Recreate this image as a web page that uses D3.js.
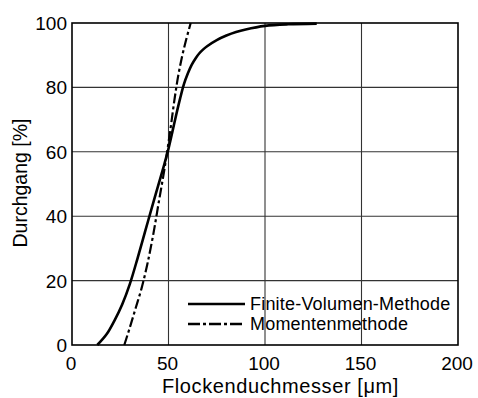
<!DOCTYPE html>
<html lang="de">
<head>
<meta charset="utf-8">
<title>Durchgang</title>
<script src="https://d3js.org/d3.v7.min.js"></script>
<style>
  body { margin: 0; background: #fff; }
  svg text { font-family: "Liberation Sans", Arial, sans-serif; fill: #000; }
</style>
</head>
<body>
<div id="chart"></div>
<script>
// ticks
var xTicks = [0, 50, 100, 150, 200];
var yTicks = [0, 20, 40, 60, 80, 100];

// Finite-Volumen-Methode (solid)
var fvmX = [13.1, 18, 22, 26, 30, 34, 38, 42, 46, 48, 50, 52, 54, 56, 58, 60, 62, 64, 66, 68, 70, 75, 80, 85, 90, 100, 112, 126.8];
var fvmY = [0, 3.4, 7.6, 12.6, 19, 27, 35.5, 44, 52.3, 56.5, 61, 66.2, 71.5, 76.5, 81, 84.3, 87, 89, 90.6, 91.8, 92.8, 94.7, 96.1, 97.2, 98, 99.1, 99.6, 99.8];

// Momentenmethode (dash-dot)
var momX = [27.1, 30, 33, 36, 39, 42, 45, 48, 51, 53, 55, 57, 59, 61.5];
var momY = [0, 5.5, 11.5, 17.5, 25, 34, 44.5, 55, 67, 75.8, 83.5, 89.5, 94.5, 100];

var legendLabels = ["Finite-Volumen-Methode", "Momentenmethode"];

var width = 478, height = 398;
var margin = { left: 72, right: 20, top: 23, bottom: 53 };

var svg = d3.select("#chart").append("svg")
  .attr("width", width)
  .attr("height", height);

var x = d3.scaleLinear().domain([0, 200]).range([margin.left, width - margin.right]);
var y = d3.scaleLinear().domain([0, 100]).range([height - margin.bottom, margin.top]);

// grid
svg.append("g").selectAll("line")
  .data(xTicks.slice(1, -1))
  .enter().append("line")
  .attr("x1", d => x(d)).attr("x2", d => x(d))
  .attr("y1", y(0)).attr("y2", y(100))
  .attr("stroke", "#333").attr("stroke-width", 1.1);

svg.append("g").selectAll("line")
  .data(yTicks.slice(1, -1))
  .enter().append("line")
  .attr("x1", x(0)).attr("x2", x(200))
  .attr("y1", d => y(d)).attr("y2", d => y(d))
  .attr("stroke", "#333").attr("stroke-width", 1.1);

// frame
svg.append("rect")
  .attr("x", x(0)).attr("y", y(100))
  .attr("width", x(200) - x(0)).attr("height", y(0) - y(100))
  .attr("fill", "none").attr("stroke", "#000").attr("stroke-width", 1.6);

// tick labels
svg.append("g").selectAll("text")
  .data(xTicks)
  .enter().append("text")
  .attr("x", d => x(d) - 1)
  .attr("y", 370)
  .attr("text-anchor", "middle")
  .attr("font-size", 19)
  .text(d => d);

svg.append("g").selectAll("text")
  .data(yTicks)
  .enter().append("text")
  .attr("x", 67)
  .attr("y", d => y(d) + 7)
  .attr("text-anchor", "end")
  .attr("font-size", 19)
  .text(d => d);

// axis titles
svg.append("text")
  .attr("x", 162).attr("y", 393)
  .attr("font-size", 20)
  .attr("letter-spacing", 0.6)
  .text("Flockenduchmesser [\u03bcm]");

svg.append("text")
  .attr("transform", "translate(27,183) rotate(-90)")
  .attr("text-anchor", "middle")
  .attr("font-size", 19.5)
  .text("Durchgang [%]");

// curves
var line = d3.line()
  .x(d => x(d[0]))
  .y(d => y(d[1]))
  .curve(d3.curveCatmullRom.alpha(0.5));

svg.append("path")
  .datum(d3.zip(fvmX, fvmY))
  .attr("d", line)
  .attr("fill", "none").attr("stroke", "#000").attr("stroke-width", 2.6);

svg.append("path")
  .datum(d3.zip(momX, momY))
  .attr("d", line)
  .attr("fill", "none").attr("stroke", "#000").attr("stroke-width", 2.2)
  .attr("stroke-dasharray", "10,3,3,3");

// legend
var lg = svg.append("g");
legendLabels.forEach(function (lab, i) {
  var ly = 304 + i * 20;
  lg.append("line")
    .attr("x1", 188).attr("x2", 245)
    .attr("y1", ly).attr("y2", ly)
    .attr("stroke", "#000").attr("stroke-width", 2.6)
    .attr("stroke-dasharray", i === 0 ? null : "12,3,3,3");
  lg.append("text")
    .attr("x", 250).attr("y", ly + 6)
    .attr("font-size", 18)
    .attr("letter-spacing", 0.2)
    .text(lab);
});
</script>
</body>
</html>
